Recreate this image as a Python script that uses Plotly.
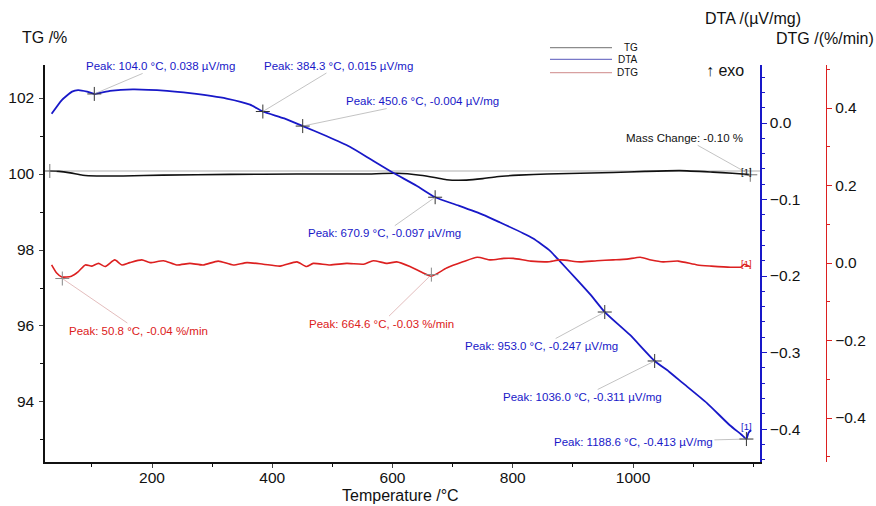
import plotly.graph_objects as go

# ---------------- data ----------------
tg_temp = [30, 45, 64, 85, 108, 152, 218, 330, 441, 551, 607, 646, 670, 690, 723, 750, 773, 810, 857,
           967, 1020, 1078, 1133, 1165, 1189, 1195]
tg_val = [100.08, 100.07, 100.03, 99.97, 99.95, 99.95, 99.97, 99.99, 100.00, 100.00, 100.02, 99.97, 99.91,
          99.85, 99.84, 99.88, 99.93, 99.97, 100.00, 100.04, 100.07, 100.09, 100.05, 100.02, 99.99, 99.98]

dta_temp = [33, 50, 67, 77, 92, 104, 130, 168, 225, 263, 324, 363, 384.3, 420, 450.6, 490, 529, 565, 601,
            640, 670.9, 710, 751, 779, 817, 834, 862, 874, 907, 930, 953, 995, 1036, 1060, 1083, 1123,
            1161, 1180, 1188.6, 1192, 1196]
dta_val = [0.012, 0.030, 0.041, 0.043, 0.041, 0.038, 0.042, 0.044, 0.042, 0.039, 0.032, 0.024, 0.015, 0.006,
           -0.004, -0.017, -0.031, -0.048, -0.065, -0.082, -0.097, -0.108, -0.120, -0.130, -0.144, -0.151,
           -0.167, -0.177, -0.205, -0.225, -0.247, -0.277, -0.311, -0.325, -0.340, -0.366, -0.395, -0.407,
           -0.413, -0.405, -0.401]

dtg_temp = [33, 41, 50, 66, 77, 89, 100, 111, 122, 138, 150, 163, 183, 197, 219, 241, 263, 285, 310, 335,
            358, 385, 413, 441, 457, 468, 496, 524, 552, 568, 591, 607, 629, 650, 664.6, 690, 717, 741,
            763, 785, 801, 830, 857, 880, 912, 940, 967, 990, 1012, 1030, 1050, 1075, 1107, 1130, 1162,
            1180, 1185, 1195]
dtg_val = [-0.005, -0.025, -0.036, -0.034, -0.023, -0.005, -0.008, -0.001, -0.009, 0.008, -0.005, 0.001,
           0.008, 0.001, 0.006, -0.005, -0.001, -0.005, 0.005, -0.005, 0.001, -0.003, -0.008, 0.003,
           -0.009, -0.001, -0.005, -0.001, -0.003, 0.006, -0.001, 0.003, -0.009, -0.025, -0.034, -0.013,
           0.003, 0.015, 0.008, 0.012, 0.012, 0.005, 0.003, 0.008, 0.003, 0.006, 0.008, 0.010, 0.015,
           0.008, 0.003, 0.005, -0.005, -0.008, -0.011, -0.010, -0.003, -0.010]

dta_peak_t = [104.0, 384.3, 450.6, 670.9, 953.0, 1036.0, 1188.6]
dta_peak_v = [0.038, 0.015, -0.004, -0.097, -0.247, -0.311, -0.413]
dtg_peak_t = [50.8, 664.6]
dtg_peak_v = [-0.04, -0.03]
mass_change = -0.10

series_names = ["TG", "DTA", "DTG"]
x_ticks = [200, 400, 600, 800, 1000]
tg_ticks = [94, 96, 98, 100, 102]
dta_ticks = [-0.4, -0.3, -0.2, -0.1, 0.0]
dtg_ticks = [-0.4, -0.2, 0.0, 0.2, 0.4]

# ---------------- style ----------------
BLUE = "#1818c8"
RED = "#dc2020"
BLACK = "#111111"
GRAY = "#9a9a9a"
FONT = "Liberation Sans, Arial, sans-serif"

fig = go.Figure()
fig.add_trace(go.Scatter(x=tg_temp, y=tg_val, mode="lines", name="TG", showlegend=False,
                         line=dict(color=BLACK, width=1.6, shape="spline", smoothing=0.6), yaxis="y"))
fig.add_trace(go.Scatter(x=dta_temp, y=dta_val, mode="lines", name="DTA", showlegend=False,
                         line=dict(color=BLUE, width=1.8, shape="spline", smoothing=0.5), yaxis="y2"))
fig.add_trace(go.Scatter(x=dtg_temp, y=dtg_val, mode="lines", name="DTG", showlegend=False,
                         line=dict(color=RED, width=1.6, shape="spline", smoothing=0.6), yaxis="y3"))

# peak markers
fig.add_trace(go.Scatter(x=dta_peak_t, y=dta_peak_v, mode="markers", yaxis="y2", showlegend=False,
                         marker=dict(symbol="cross-thin", size=10, line=dict(color="#333333", width=1))))
fig.add_trace(go.Scatter(x=dtg_peak_t, y=dtg_peak_v, mode="markers", yaxis="y3", showlegend=False,
                         marker=dict(symbol="cross-thin", size=10, line=dict(color="#888888", width=1))))
fig.add_trace(go.Scatter(x=[tg_temp[0], tg_temp[-1]], y=[tg_val[0], tg_val[-1]], mode="markers",
                         yaxis="y", showlegend=False,
                         marker=dict(symbol="cross-thin", size=10, line=dict(color="#777777", width=1))))

# reference line at TG start value
fig.add_shape(type="line", xref="x domain", x0=0, x1=1, yref="y", y0=tg_val[0], y1=tg_val[0],
              line=dict(color="#b0b0b0", width=1.2), layer="below")

ann = []
# peak labels (offsets are label positions in px)
dta_offsets = [(66, -28), (76, -46), (120, -25), (-51, 36), (-63, 34), (-72, 36), (-113, 3)]
for t, v, (ax, ay) in zip(dta_peak_t, dta_peak_v, dta_offsets):
    ann.append(dict(x=t, y=v, xref="x", yref="y2", text=f"Peak: {t:.1f} °C, {v:.3f} µV/mg",
                    showarrow=True, arrowhead=0, arrowwidth=0.6, arrowcolor=GRAY, ax=ax, ay=ay,
                    font=dict(color=BLUE, size=11.5, family=FONT)))
dtg_offsets = [(76, 52), (-50, 49)]
for t, v, (ax, ay) in zip(dtg_peak_t, dtg_peak_v, dtg_offsets):
    ann.append(dict(x=t, y=v, xref="x", yref="y3", text=f"Peak: {t:.1f} °C, {v:.2f} %/min",
                    showarrow=True, arrowhead=0, arrowwidth=0.6, arrowcolor="#d09090", ax=ax, ay=ay,
                    font=dict(color=RED, size=11.5, family=FONT)))
ann.append(dict(x=tg_temp[-1], y=tg_val[-1], xref="x", yref="y", text=f"Mass Change: {mass_change:.2f} %",
                showarrow=True, arrowhead=0, arrowwidth=0.6, arrowcolor=GRAY, ax=-66, ay=-37,
                font=dict(color=BLACK, size=11.5, family=FONT)))
# [1] markers at curve ends
for yr, yv, col in [("y", tg_val[-1], BLACK), ("y2", dta_val[-1], BLUE), ("y3", dtg_val[-1], RED)]:
    ann.append(dict(x=tg_temp[-1], y=yv, xref="x", yref=yr, text="[1]", showarrow=False,
                    xanchor="right", yanchor="bottom", xshift=4, yshift=-4,
                    font=dict(color=col, size=9.5, family=FONT)))
# axis titles
ann += [
    dict(x=-0.032, y=1.07, xref="paper", yref="paper", text="TG /%", showarrow=False,
         xanchor="left", yanchor="middle", font=dict(size=16, color=BLACK, family=FONT)),
    dict(x=0.906, y=1.118, xref="paper", yref="paper", text="DTA /(µV/mg)", showarrow=False,
         xanchor="center", yanchor="middle", font=dict(size=16, color=BLACK, family=FONT)),
    dict(x=1.064, y=1.068, xref="paper", yref="paper", text="DTG /(%/min)", showarrow=False,
         xanchor="right", yanchor="middle", font=dict(size=16, color=BLACK, family=FONT)),
    dict(x=0.871, y=0.987, xref="paper", yref="paper", text="↑ exo", showarrow=False,
         xanchor="center", yanchor="middle", font=dict(size=16, color=BLACK, family=FONT)),
    dict(x=0.455, y=-0.084, xref="paper", yref="paper", text="Temperature /°C", showarrow=False,
         xanchor="center", yanchor="middle", font=dict(size=16, color=BLACK, family=FONT)),
]

# custom compact legend
legend_colors = ["#8c8c8c", "#7878c8", "#d8a0a0"]
legend_y = [1.0436, 1.0144, 0.9806]
for name, col, ly in zip(series_names, legend_colors, legend_y):
    fig.add_shape(type="line", xref="paper", yref="paper", x0=0.6466, x1=0.726, y0=ly, y1=ly,
                  line=dict(color=col, width=1.2))
    ann.append(dict(x=0.7618, y=ly, xref="paper", yref="paper", text=name, showarrow=False,
                    xanchor="right", yanchor="middle", font=dict(size=10, color=BLACK, family=FONT)))

tickfont = dict(size=15.5, color=BLACK, family=FONT)
fig.update_layout(
    width=876, height=506,
    margin=dict(l=45, r=50, t=65, b=44),
    paper_bgcolor="white", plot_bgcolor="white",
    font=dict(family=FONT),
    annotations=ann,
    showlegend=False,
    xaxis=dict(domain=[0, 0.9155], range=[22, 1211.2], tickvals=x_ticks, ticks="outside", ticklen=4,
               ticklabelstandoff=-3,
               showline=True, linecolor=BLACK, linewidth=1.5, showgrid=False, zeroline=False,
               tickfont=tickfont, automargin=False,
               minor=dict(dtick=100, tick0=0, ticks="outside", ticklen=3, tickcolor=BLACK)),
    yaxis=dict(range=[92.42, 102.87], tickvals=tg_ticks, ticks="outside", ticklen=4,
               ticklabelstandoff=2,
               showline=True, linecolor=BLACK, linewidth=1.5, showgrid=False, zeroline=False,
               tickfont=tickfont, automargin=False,
               minor=dict(dtick=1, tick0=0, ticks="outside", ticklen=3, tickcolor=BLACK)),
    yaxis2=dict(range=[-0.443, 0.0758], overlaying="y", side="right", anchor="x",
                tickvals=dta_ticks, tickformat=".1f", ticks="outside", ticklen=5, tickcolor=BLUE,
                showline=True, linecolor=BLUE, linewidth=1.5, showgrid=False, zeroline=False,
                tickfont=tickfont, automargin=False,
                minor=dict(dtick=0.02, tick0=0, ticks="outside", ticklen=3, tickcolor=BLUE)),
    yaxis3=dict(range=[-0.5135, 0.511], overlaying="y", side="right", anchor="free", position=1.0,
                tickvals=dtg_ticks, tickformat=".1f", ticks="outside", ticklen=5, tickcolor=RED,
                showline=True, linecolor=RED, linewidth=1.2, showgrid=False, zeroline=False,
                tickfont=tickfont, automargin=False,
                minor=dict(dtick=0.1, tick0=0, ticks="outside", ticklen=3, tickcolor=RED)),
)

fig.write_html("out.html", config={"displayModeBar": False},
               post_script="document.body.style.margin='0px';")
